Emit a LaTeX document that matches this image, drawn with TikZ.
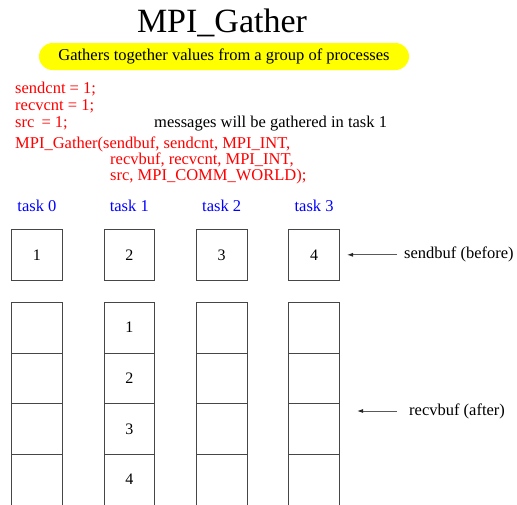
\documentclass[tikz,border=0pt]{standalone}
\usepackage{fontspec}
\setmainfont{Liberation Serif}
\usetikzlibrary{arrows.meta}
\definecolor{codered}{RGB}{255,0,0}
\definecolor{taskblue}{RGB}{0,0,255}
\definecolor{bannery}{RGB}{255,255,0}
\definecolor{boxline}{RGB}{70,70,70}

\begin{document}
\begin{tikzpicture}[x=1pt,y=-1pt,
  txt/.style={inner sep=0pt, anchor=base west, font=\fontsize{16.5}{18}\selectfont},
  code/.style={txt, text=codered},
  cell/.style={draw=boxline, line width=0.9pt, minimum width=50.6pt,
    minimum height=50.7pt, inner sep=0pt, font=\fontsize{16}{18}\selectfont},
  tasklbl/.style={inner sep=0pt, anchor=base, text=taskblue,
    font=\fontsize{16.5}{18}\selectfont},
  ptr/.style={draw=black!65, line width=0.9pt,
    -{Latex[length=6pt,width=4pt,color=black!85,fill=black!85]}}
]
\useasboundingbox (0,0) rectangle (517,504);

% heading and banner
\node[anchor=base, inner sep=0pt, font=\fontsize{34}{36}\selectfont]
  (title) at (222,32.3) {MPI\_Gather};
\node[fill=bannery, rounded corners=13.5pt, minimum width=370pt,
  minimum height=27pt, inner sep=0pt, font=\fontsize{16.5}{18}\selectfont]
  (banner) at (224,56.5) {Gathers together values from a group of processes};

% call setup
\node[code] (l1) at (15,93) {sendcnt = 1;};
\node[code] (l2) at (15,110) {recvcnt = 1;};
\node[code] (l3) at (15,127.5) {src\hspace{3pt} = 1;};
\node[txt] (note) at (154,127.5) {messages will be gathered in task 1};
\node[code] (l4) at (15,148) {MPI\_Gather(sendbuf, sendcnt, MPI\_INT,};
\node[code] (l5) at (110,164.5) {recvbuf, recvcnt, MPI\_INT,};
\node[code] (l6) at (110,180) {src, MPI\_COMM\_WORLD);};

% tasks with send buffers and receive buffers
\foreach \i/\v in {0/1,1/2,2/3,3/4} {
  \pgfmathsetmacro\cx{36.9+92.4*\i}
  \node[tasklbl] (task\i) at (\cx,211.7) {task \i};
  \node[cell] (s\i) at (\cx,254.8) {\v};
  \foreach \j in {1,...,4} {
    \node[cell] (r\i\j) at (\cx,{327.6+50.7*(\j-1)}) {\ifnum\i=1 \j\fi};
  }
}

% buffer labels
\node[txt, anchor=west] (sendlbl) at (404,254.8) {sendbuf (before)};
\coordinate (sendtip) at (347,254.8);
\draw[ptr, shorten <=7pt] (sendlbl.west) -- (sendtip);

\node[txt, anchor=west] (recvlbl) at (409,411) {recvbuf (after)};
\coordinate (recvtip) at (357,411);
\draw[ptr, shorten <=12pt] (recvlbl.west) -- (recvtip);
\end{tikzpicture}
\end{document}
